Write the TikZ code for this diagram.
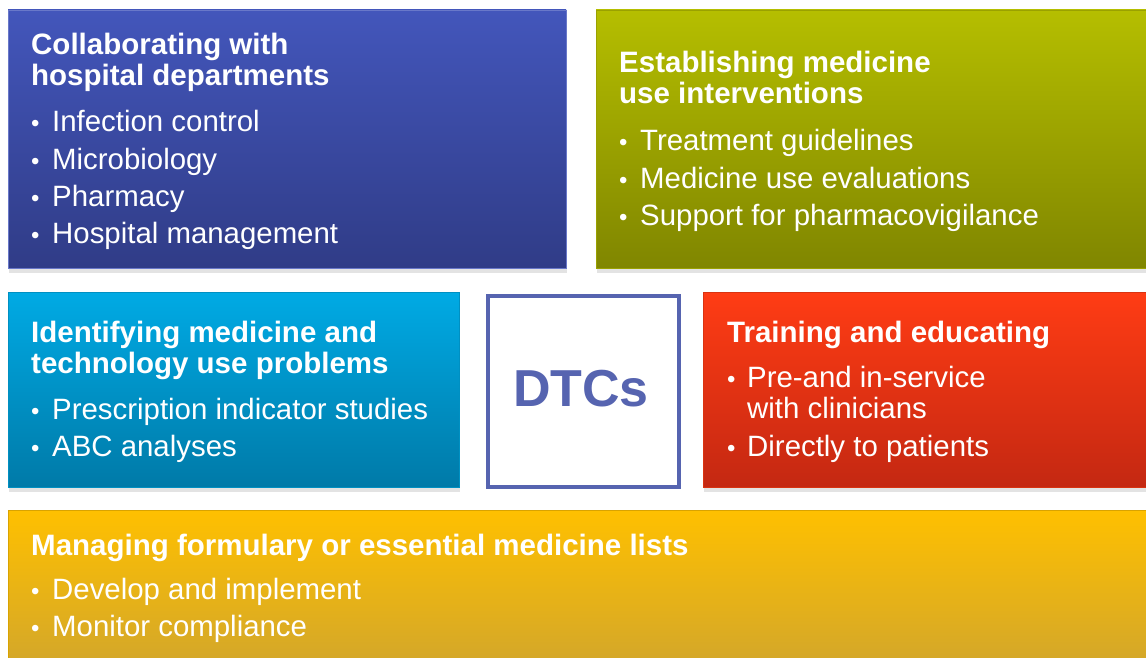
\documentclass[tikz,border=0pt]{standalone}
\usepackage{fontspec}
\setmainfont{Liberation Sans}
\usetikzlibrary{shadows}
\definecolor{blueTop}{RGB}{67,86,187}
\definecolor{blueBot}{RGB}{48,60,135}
\definecolor{oliveTop}{RGB}{181,190,0}
\definecolor{oliveBot}{RGB}{128,134,0}
\definecolor{cyanTop}{RGB}{0,170,228}
\definecolor{cyanBot}{RGB}{0,122,168}
\definecolor{redTop}{RGB}{255,60,20}
\definecolor{redBot}{RGB}{196,40,18}
\definecolor{yelTop}{RGB}{255,192,0}
\definecolor{yelBot}{RGB}{208,165,45}
\definecolor{dtcBlue}{RGB}{86,100,176}
\tikzset{
  panel/.style={rectangle, anchor=north west, inner sep=0pt, outer sep=0pt,
    drop shadow={opacity=0.22, shadow xshift=1pt, shadow yshift=-5pt}},
  head/.style={anchor=base west, inner sep=0pt, text=white,
    font=\fontsize{29.5}{31}\selectfont\bfseries},
  item/.style={anchor=base west, inner sep=0pt, text=white,
    font=\fontsize{29.4}{31}\selectfont},
  dot/.style={anchor=base west, inner sep=0pt, text=white,
    font=\fontsize{24}{31}\selectfont},
}
\begin{document}
\begin{tikzpicture}[x=1pt,y=-1pt]
\useasboundingbox (0,0) rectangle (1146,658);
\fill[white] (0,0) rectangle (1146,658);
% panels
\node[panel, minimum width=558pt, minimum height=258pt, top color=blueTop, bottom color=blueBot, draw=blueTop!80!white, line width=0.8pt] (blue) at (8,10) {};
\node[panel, minimum width=560pt, minimum height=258pt, top color=oliveTop, bottom color=oliveBot, draw=oliveTop!85!black, line width=0.8pt] (olive) at (596,10) {};
\node[panel, minimum width=451pt, minimum height=195pt, top color=cyanTop, bottom color=cyanBot, draw=cyanTop!85!black, line width=0.8pt] (cyan) at (8,292) {};
\node[panel, minimum width=450pt, minimum height=195pt, top color=redTop, bottom color=redBot, draw=redTop!85!black, line width=0.8pt] (red) at (703,292) {};
\node[panel, minimum width=1150pt, minimum height=165pt, top color=yelTop, bottom color=yelBot, draw=yelTop!85!black, line width=0.8pt] (yellow) at (8,510) {};
\node[rectangle, anchor=north west, inner sep=0pt, minimum width=191pt, minimum height=191pt, draw=dtcBlue, line width=4pt, fill=white] (dtcbox) at (486,294) {};
\node[inner sep=0pt, text=dtcBlue, font=\fontsize{52}{52}\selectfont\bfseries] (dtc) at (581,389) {DTCs};
% blue text
\node[head] (b1) at (31,55) {Collaborating with};
\node[head] (b2) at (31,86) {hospital departments};
\node[dot] (bd1) at (31,132) {•}; \node[item] (bi1) at (52,132) {Infection control};
\node[dot] (bd2) at (31,169) {•}; \node[item] (bi2) at (52,169) {Microbiology};
\node[dot] (bd3) at (31,206) {•}; \node[item] (bi3) at (52,206) {Pharmacy};
\node[dot] (bd4) at (31,243) {•}; \node[item] (bi4) at (52,243) {Hospital management};
% olive text
\node[head] (o1) at (619,73) {Establishing medicine};
\node[head] (o2) at (619,104) {use interventions};
\node[dot] (od1) at (619,151) {•}; \node[item] (oi1) at (640,151) {Treatment guidelines};
\node[dot] (od2) at (619,188) {•}; \node[item] (oi2) at (640,188) {Medicine use evaluations};
\node[dot] (od3) at (619,225) {•}; \node[item] (oi3) at (640,225) {Support for pharmacovigilance};
% cyan text
\node[head] (c1) at (31,342) {Identifying medicine and};
\node[head] (c2) at (31,373) {technology use problems};
\node[dot] (cd1) at (31,419) {•}; \node[item] (ci1) at (52,419) {Prescription indicator studies};
\node[dot] (cd2) at (31,456) {•}; \node[item] (ci2) at (52,456) {ABC analyses};
% red text
\node[head] (r1) at (727,342) {Training and educating};
\node[dot] (rd1) at (727,387) {•}; \node[item] (ri1) at (747,387) {Pre-and in-service};
\node[item] (ri1b) at (747,418) {with clinicians};
\node[dot] (rd2) at (727,456) {•}; \node[item] (ri2) at (747,456) {Directly to patients};
% yellow text
\node[head] (y1) at (31,555) {Managing formulary or essential medicine lists};
\node[dot] (yd1) at (31,599) {•}; \node[item] (yi1) at (52,599) {Develop and implement};
\node[dot] (yd2) at (31,636) {•}; \node[item] (yi2) at (52,636) {Monitor compliance};
\end{tikzpicture}
\end{document}
